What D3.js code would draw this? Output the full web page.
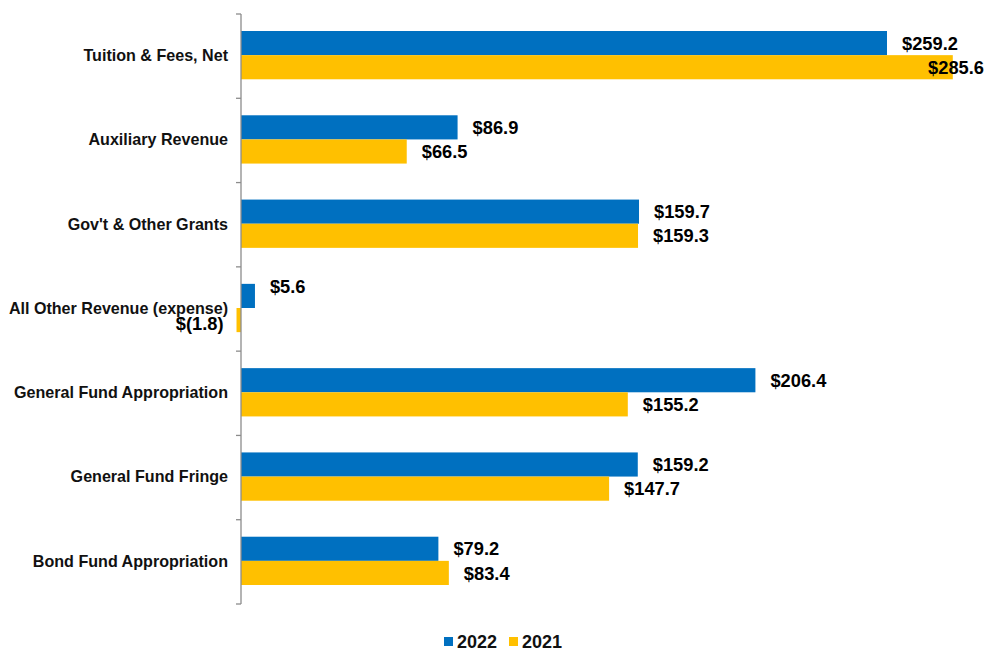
<!DOCTYPE html>
<html>
<head>
<meta charset="utf-8">
<script src="https://cdn.jsdelivr.net/npm/d3@7"></script>
<style>
  body { margin: 0; background: #fff; }
  svg { display: block; font-family: "Liberation Sans", Arial, sans-serif; }
</style>
</head>
<body>
<div class="container"></div>
<script>
var categories = ["Tuition & Fees, Net", "Auxiliary Revenue", "Gov't & Other Grants",
                  "All Other Revenue (expense)", "General Fund Appropriation",
                  "General Fund Fringe", "Bond Fund Appropriation"];
var values2022 = [259.2, 86.9, 159.7, 5.6, 206.4, 159.2, 79.2];
var values2021 = [285.6, 66.5, 159.3, -1.8, 155.2, 147.7, 83.4];
var seriesNames = ["2022", "2021"];
var colors = ["#0070c0", "#ffc000"];

var width = 986, height = 651;
var zeroX = 241, plotTop = 14, plotBottom = 604;

var svg = d3.select(".container").append("svg")
            .attr("width", width).attr("height", height);

var x = d3.scaleLinear().domain([0, 259.2]).range([zeroX, 887]);
var y = d3.scaleBand().domain(categories).range([plotTop, plotBottom]);
var inner = d3.scaleBand().domain(seriesNames).range([17, y.bandwidth() - 19]);

function fmt(v) {
  return v < 0 ? "$(" + Math.abs(v).toFixed(1) + ")" : "$" + v.toFixed(1);
}

var rows = [];
categories.forEach(function(c, i) {
  rows.push({cat: c, s: "2022", v: values2022[i]});
  rows.push({cat: c, s: "2021", v: values2021[i]});
});

svg.selectAll("rect.bar").data(rows).enter().append("rect")
   .attr("class", "bar")
   .attr("x", d => Math.min(x(0), x(d.v)))
   .attr("width", d => Math.abs(x(d.v) - x(0)))
   .attr("y", d => y(d.cat) + inner(d.s))
   .attr("height", inner.bandwidth())
   .attr("fill", d => colors[seriesNames.indexOf(d.s)]);

// axis line + ticks between categories
var axis = svg.append("g").attr("transform", "translate(" + zeroX + ",0)");
axis.append("line").attr("y1", plotTop).attr("y2", plotBottom)
    .attr("stroke", "#8c8c8c").attr("stroke-width", 1.3);
var tickYs = categories.map(c => y(c)).concat([plotBottom]);
axis.selectAll("line.tick").data(tickYs).enter().append("line")
    .attr("class", "tick")
    .attr("x1", -5).attr("x2", 0)
    .attr("y1", d => d).attr("y2", d => d)
    .attr("stroke", "#8c8c8c").attr("stroke-width", 1.3);

svg.selectAll("text.cat").data(categories).enter().append("text")
   .attr("class", "cat")
   .attr("x", 228)
   .attr("y", d => y(d) + y.bandwidth() / 2)
   .attr("dy", "0.3em")
   .attr("text-anchor", "end")
   .attr("font-size", 16.1).attr("font-weight", "bold")
   .attr("fill", "#111")
   .text(d => d);

// value labels; tiny positive bars get their label lifted (as excel did)
var vals = svg.selectAll("text.val").data(rows).enter().append("text")
   .attr("class", "val")
   .attr("x", d => d.v < 0 ? x(d.v) - 13 : x(d.v) + 15)
   .attr("y", d => y(d.cat) + inner(d.s) + inner.bandwidth() / 2
                   - (d.v > 0 && d.v < 10 ? 10 : 0) + (d.v < 0 ? 3 : 0))
   .attr("dy", "0.36em")
   .attr("text-anchor", d => d.v < 0 ? "end" : "start")
   .attr("font-size", 18.3).attr("font-weight", "bold")
   .attr("fill", "#000")
   .text(d => fmt(d.v));

// keep labels inside the chart area
vals.each(function(d) {
  var w = this.getComputedTextLength();
  var xx = +d3.select(this).attr("x");
  if (d.v >= 0 && xx + w > width - 2) d3.select(this).attr("x", width - 2 - w);
});

// legend
var legend = svg.append("g").attr("transform", "translate(444,637)");
var lg = legend.selectAll("g").data(seriesNames).enter().append("g")
   .attr("transform", (d, i) => "translate(" + (i * 65) + ",0)");
lg.append("rect").attr("width", 9).attr("height", 9)
  .attr("fill", (d, i) => colors[i]);
lg.append("text").attr("x", 13).attr("y", 4.5).attr("dy", "0.36em")
  .attr("font-size", 18).attr("font-weight", "bold").attr("fill", "#111")
  .text(d => d);
</script>
</body>
</html>
